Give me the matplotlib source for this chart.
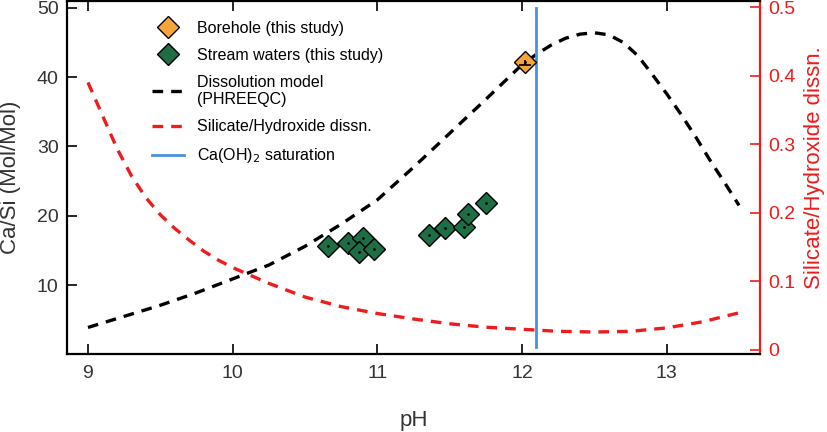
import matplotlib
matplotlib.use("Agg")
import matplotlib.pyplot as plt
from matplotlib.ticker import FuncFormatter

plt.rcParams['font.family'] = ['Liberation Sans', 'DejaVu Sans']

# dissolution model (PHREEQC), Ca/Si vs pH
model_ph = [9, 9.25, 9.5, 9.75, 10, 10.25, 10.5, 10.75, 11, 11.25, 11.5, 11.75,
            12, 12.1, 12.2, 12.3, 12.4, 12.5, 12.6, 12.7, 12.8, 12.9, 13.0,
            13.1, 13.2, 13.3, 13.4, 13.5]
model_casi = [3.9, 5.5, 7.1, 8.9, 10.9, 12.9, 15.6, 18.8, 22.3, 27.0, 31.9, 36.8,
              41.8, 43.3, 44.6, 45.6, 46.2, 46.4, 46.1, 45.0, 43.1, 40.4, 37.6,
              34.6, 31.4, 28.0, 24.8, 21.5]

# silicate/hydroxide dissolution (right axis)
diss_ph = [9.0, 9.1, 9.2, 9.3, 9.4, 9.5, 9.6, 9.7, 9.8, 9.9, 10.0, 10.25, 10.5,
           10.75, 11, 11.25, 11.5, 11.75, 12, 12.25, 12.5, 12.75, 13, 13.25, 13.5]
diss_val = [0.39, 0.342, 0.294, 0.254, 0.222, 0.197, 0.177, 0.160, 0.144, 0.131,
            0.120, 0.097, 0.077, 0.063, 0.053, 0.045, 0.038, 0.033, 0.030, 0.027,
            0.026, 0.027, 0.032, 0.041, 0.054]

# stream waters
stream_ph = [10.66, 10.80, 10.90, 10.87, 10.98, 11.36, 11.47, 11.60, 11.63, 11.75]
stream_casi = [15.7, 16.1, 16.8, 14.8, 15.2, 17.3, 18.3, 18.4, 20.2, 21.9]

# borehole
bore_ph = [12.02]
bore_casi = [42.2]

caoh2_ph = 12.1
caoh2_range = [1.1, 50.0]

grey = '#333333'
red = '#ee1c1c'
green = '#1d6e45'
orange = '#f5a53c'
blue = '#4a90e2'

fig = plt.figure(figsize=(8.27, 4.32), dpi=100)
ax = fig.add_axes([0.081, 0.181, 0.838, 0.817])
ax2 = ax.twinx()

l1, = ax.plot(model_ph, model_casi, color='black', lw=2.4, ls=(0, (3.2, 2.4)),
              label='Dissolution model\n(PHREEQC)', zorder=2)
l2, = ax2.plot(diss_ph, diss_val, color=red, lw=2.4, ls=(0, (3.2, 2.4)),
               label='Silicate/Hydroxide dissn.', zorder=2)
l3, = ax.plot([caoh2_ph, caoh2_ph], caoh2_range, color=blue, lw=2,
              label='Ca(OH)$_2$ saturation', zorder=3)

s1, = ax.plot(bore_ph, bore_casi, 'D', ms=11.5, mfc=orange, mec='black', mew=1,
              ls='none', label='Borehole (this study)', zorder=4)
ax.errorbar(bore_ph, [bore_casi[0] - 0.5], xerr=0.04, yerr=[[0], [0.8]], fmt='none',
            ecolor='black', elinewidth=1.2, capsize=0, zorder=5)
s2, = ax.plot(stream_ph, stream_casi, 'D', ms=11.5, mfc=green, mec='black', mew=1,
              ls='none', label='Stream waters (this study)', zorder=4)
ax.plot(stream_ph + bore_ph, stream_casi + bore_casi, '.', ms=2, color='black', zorder=6)

ax.set_zorder(ax2.get_zorder() + 1)
ax.patch.set_visible(False)

ax.set_xlim(8.855, 13.645)
ax.set_ylim(0.1, 51.0)
ax2.set_ylim(-0.0058, 0.509)

ax.set_xticks([9, 10, 11, 12, 13])
ax.set_yticks([10, 20, 30, 40, 50])
ax2.set_yticks([0, 0.1, 0.2, 0.3, 0.4, 0.5])
ax2.yaxis.set_major_formatter(FuncFormatter(lambda v, p: '0' if v == 0 else '%g' % v))

ax.tick_params(axis='x', direction='in', top=True, length=7, width=1.2,
               labelsize=14, labelcolor=grey, pad=8)
ax.tick_params(axis='y', direction='in', length=7, width=1.2,
               labelsize=14, labelcolor=grey, pad=6)
ax2.tick_params(axis='y', direction='in', length=7, width=1.2, color=red,
                labelsize=14, labelcolor=red, pad=6)

for sp in ['left', 'bottom', 'top']:
    ax.spines[sp].set_linewidth(1.6)
ax.spines['right'].set_visible(False)
ax2.spines['right'].set_color(red)
ax2.spines['right'].set_linewidth(1.6)
for sp in ['left', 'bottom', 'top']:
    ax2.spines[sp].set_visible(False)

ax.set_xlabel('pH', fontsize=16, color=grey, labelpad=20)
ax.set_ylabel('Ca/Si (Mol/Mol)', fontsize=16, color=grey)
ax.yaxis.set_label_coords(-0.0664, 0.5)
ax2.set_ylabel('Silicate/Hydroxide dissn.', fontsize=16, color=red, rotation=90)
ax2.yaxis.set_label_coords(1.0635, 0.527)

ax.legend(handles=[s1, s2, l1, l2, l3], loc='upper left',
          bbox_to_anchor=(0.107, 0.975), frameon=False, fontsize=11.5,
          handlelength=2.0, labelspacing=0.75, handletextpad=0.8,
          borderaxespad=0.3)

fig.savefig('out.png', dpi=100)
